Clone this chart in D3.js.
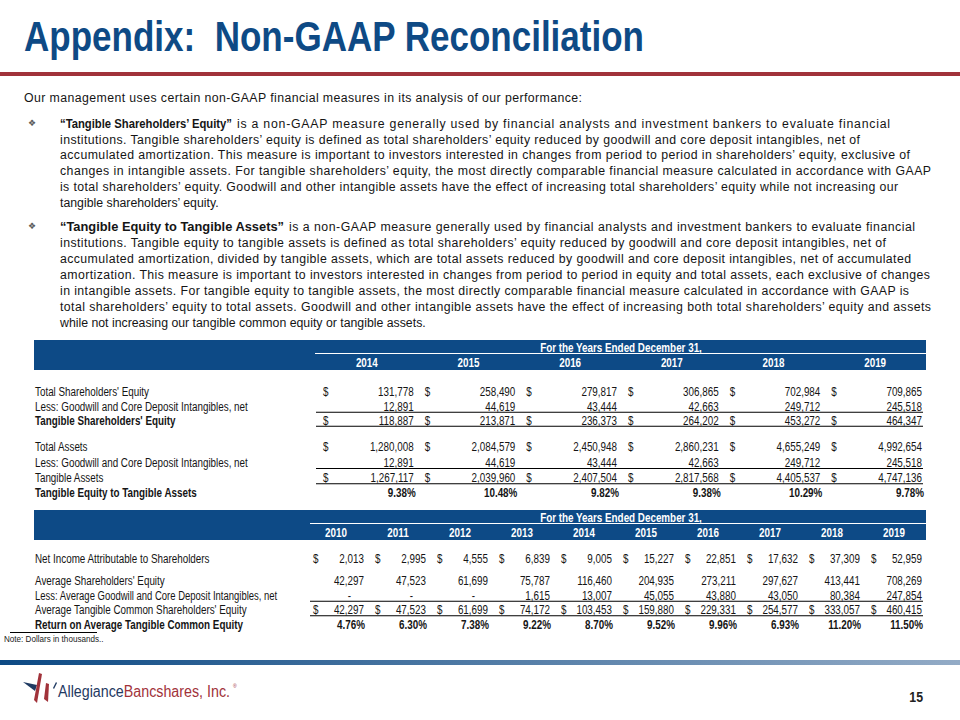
<!DOCTYPE html>
<html><head><meta charset="utf-8">
<script src="https://cdn.jsdelivr.net/npm/d3@7"></script>
<style>html,body{margin:0;padding:0;background:#fff;} svg{display:block;}</style>
</head><body>
<svg id="c" width="960" height="720"></svg>
<script>
// ---------------- DATA ----------------
const titleText = "Appendix:  Non-GAAP Reconciliation";
const introText = "Our management uses certain non-GAAP financial measures in its analysis of our performance:";
const bullet1Lead = "“Tangible Shareholders’ Equity”";
const bullet1Lines = [
  "is a non-GAAP measure generally used by financial analysts and investment bankers to evaluate financial",
  "institutions. Tangible shareholders’ equity is defined as total shareholders’ equity reduced by goodwill and core deposit intangibles, net of",
  "accumulated amortization. This measure is important to investors interested in changes from period to period in shareholders’ equity, exclusive of",
  "changes in intangible assets. For tangible shareholders’ equity, the most directly comparable financial measure calculated in accordance with GAAP",
  "is total shareholders’ equity. Goodwill and other intangible assets have the effect of increasing total shareholders’ equity while not increasing our",
  "tangible shareholders’ equity."
];
const bullet2Lead = "“Tangible Equity to Tangible Assets”";
const bullet2Lines = [
  "is a non-GAAP measure generally used by financial analysts and investment bankers to evaluate financial",
  "institutions. Tangible equity to tangible assets is defined as total shareholders’ equity reduced by goodwill and core deposit intangibles, net of",
  "accumulated amortization, divided by tangible assets, which are total assets reduced by goodwill and core deposit intangibles, net of accumulated",
  "amortization. This measure is important to investors interested in changes from period to period in equity and total assets, each exclusive of changes",
  "in intangible assets. For tangible equity to tangible assets, the most directly comparable financial measure calculated in accordance with GAAP is",
  "total shareholders’ equity to total assets. Goodwill and other intangible assets have the effect of increasing both total shareholders’ equity and assets",
  "while not increasing our tangible common equity or tangible assets."
];
const headerText = "For the Years Ended December 31,";

const years1 = ["2014", "2015", "2016", "2017", "2018", "2019"];
const totalEquity = [131778, 258490, 279817, 306865, 702984, 709865];
const goodwill1 = [12891, 44619, 43444, 42663, 249712, 245518];
const tangibleEquity = [118887, 213871, 236373, 264202, 453272, 464347];
const totalAssets = [1280008, 2084579, 2450948, 2860231, 4655249, 4992654];
const goodwill1b = [12891, 44619, 43444, 42663, 249712, 245518];
const tangibleAssets = [1267117, 2039960, 2407504, 2817568, 4405537, 4747136];
const tceRatio = [9.38, 10.48, 9.82, 9.38, 10.29, 9.78];

const years2 = ["2010", "2011", "2012", "2013", "2014", "2015", "2016", "2017", "2018", "2019"];
const netIncome = [2013, 2995, 4555, 6839, 9005, 15227, 22851, 17632, 37309, 52959];
const avgEquity = [42297, 47523, 61699, 75787, 116460, 204935, 273211, 297627, 413441, 708269];
const avgGoodwill = [0, 0, 0, 1615, 13007, 45055, 43880, 43050, 80384, 247854];
const avgTangible = [42297, 47523, 61699, 74172, 103453, 159880, 229331, 254577, 333057, 460415];
const rotce = [4.76, 6.30, 7.38, 9.22, 8.70, 9.52, 9.96, 6.93, 11.20, 11.50];

const noteText = "Note: Dollars in thousands..";
const pageNumber = "15";

// ---------------- LAYOUT / STYLE ----------------
const BLUE = "#0d4a86", RED = "#a1323a", INK = "#151515";
const SANS = "'Liberation Sans', Arial, sans-serif";
const NARROW = "'Liberation Sans Narrow', 'Arial Narrow', 'Liberation Sans', Arial, sans-serif";
const svg = d3.select("#c");
const fmt = d3.format(",");
const pct = v => d3.format(".2f")(v) + "%";

function addText(g, str, x, y, o) {
  return g.append("text").attr("x", x).attr("y", y).text(str)
    .style("font-family", SANS).style("font-size", o.size + "px")
    .style("font-weight", o.bold ? "bold" : "normal")
    .style("white-space", "pre")
    .attr("fill", o.fill || INK);
}
function narrow(g, str, x, y, o) {
  const t = addText(g, str, 0, y, o);
  const w = t.node().getComputedTextLength() * (o.factor || 0.82);
  const a = o.anchor || "start";
  const x0 = a === "end" ? x - w : a === "middle" ? x - w / 2 : x;
  t.attr("x", x0).attr("textLength", w).attr("lengthAdjust", "spacingAndGlyphs")
   .style("font-family", NARROW);
  return t;
}
function fit(g, str, x0, x1, y, o) {
  const t = addText(g, str, x0, y, o);
  if (x1) t.attr("textLength", x1 - x0).attr("lengthAdjust", "spacing");
  return t;
}

// ---------------- TITLE ----------------
addText(svg, titleText, 24, 51, {size: 42, bold: true, fill: "#0e4a85"})
  .attr("textLength", 620).attr("lengthAdjust", "spacingAndGlyphs").style("font-family", NARROW);
svg.append("rect").attr("x", 0).attr("y", 72).attr("width", 960).attr("height", 4).attr("fill", RED);

// ---------------- PARAGRAPHS ----------------
const P = {size: 12.3};
fit(svg, introText, 24, 582, 102, P);

function bullet(lead, leadEnd, lines, y0, step, ends) {
  svg.append("text").attr("x", 32).attr("y", y0 + 2).attr("text-anchor", "middle")
    .style("font-family", "'DejaVu Sans', sans-serif").style("font-size", "9px")
    .attr("fill", "#5a5a5a").text("❖");
  addText(svg, lead, 60, y0 + 4, {size: 12.3, bold: true})
    .attr("textLength", leadEnd - 60).attr("lengthAdjust", "spacingAndGlyphs");
  lines.forEach((ln, i) => {
    const x0 = i === 0 ? leadEnd + 5 : 60;
    fit(svg, ln, x0, ends[i], y0 + 4 + i * step, P);
  });
}
bullet(bullet1Lead, 232, bullet1Lines, 124, 15.7, [890, 860, 910, 931, 898, null]);
bullet(bullet2Lead, 284, bullet2Lines, 227, 16.0, [915, 886, 911, 930, 909, 931, null]);

// ---------------- TABLE HELPERS ----------------
function header(years, colScale, top, lineX) {
  svg.append("rect").attr("x", 34).attr("y", top).attr("width", 892).attr("height", 30).attr("fill", BLUE);
  narrow(svg, headerText, 621, top + 12, {size: 12, bold: true, fill: "#fff", anchor: "middle"});
  svg.append("line").attr("x1", lineX).attr("x2", 926).attr("y1", top + 13.5).attr("y2", top + 13.5)
    .attr("stroke", "#fff").attr("stroke-width", 1.2);
  years.forEach(y => narrow(svg, y, colScale(y) + colScale.bandwidth() / 2, top + 27,
    {size: 12, bold: true, fill: "#fff", anchor: "middle"}));
}
function row(label, values, years, colScale, cy, o) {
  const base = cy + 4.3;
  narrow(svg, label, 35, base, {size: 12, bold: o.boldLabel, factor: o.labelFactor});
  values.forEach((v, i) => {
    const x = colScale(years[i]);
    const right = x + colScale.bandwidth() - o.inset;
    if (o.dollar) narrow(svg, "$", x + o.dollarOff, base, {size: 12});
    let str;
    if (o.pct) str = pct(v);
    else if (v === 0) str = "-";
    else str = fmt(v);
    const xr = o.pct ? right + o.pctShift : (v === 0 ? right - 13 : right);
    narrow(svg, str, xr, base, {size: 12, bold: o.pct, anchor: "end"});
  });
  if (o.underline) {
    const last = colScale(years[years.length - 1]) + colScale.bandwidth() - o.inset + 1;
    svg.append("line").attr("x1", o.lineX).attr("x2", last).attr("y1", cy + 5.8).attr("y2", cy + 5.8)
      .attr("stroke", "#000").attr("stroke-width", 1.1);
  }
}

// ---------------- TABLE 1 ----------------
const x1 = d3.scaleBand().domain(years1).range([316, 926]);
header(years1, x1, 340, 315);
const o1 = {inset: 4, dollarOff: 7, pctShift: 2, lineX: 316};
row("Total Shareholders' Equity", totalEquity, years1, x1, 392, {...o1, dollar: true});
row("Less: Goodwill and Core Deposit Intangibles, net", goodwill1, years1, x1, 406.5, {...o1, underline: true});
row("Tangible Shareholders' Equity", tangibleEquity, years1, x1, 420.5, {...o1, dollar: true, boldLabel: true, underline: true});
row("Total Assets", totalAssets, years1, x1, 447, {...o1, dollar: true});
row("Less: Goodwill and Core Deposit Intangibles, net", goodwill1b, years1, x1, 462.7, {...o1, underline: true});
row("Tangible Assets", tangibleAssets, years1, x1, 478, {...o1, dollar: true, underline: true});
row("Tangible Equity to Tangible Assets", tceRatio, years1, x1, 493, {...o1, pct: true, boldLabel: true});

// ---------------- TABLE 2 ----------------
const x2 = d3.scaleBand().domain(years2).range([305, 925]);
header(years2, x2, 510, 310);
const o2 = {inset: 3, dollarOff: 8, pctShift: 1, lineX: 310};
row("Net Income Attributable to Shareholders", netIncome, years2, x2, 558.5, {...o2, dollar: true});
row("Average Shareholders' Equity", avgEquity, years2, x2, 581, o2);
row("Less: Average Goodwill and Core Deposit Intangibles, net", avgGoodwill, years2, x2, 595.5, {...o2, underline: true, labelFactor: 0.79});
row("Average Tangible Common Shareholders' Equity", avgTangible, years2, x2, 610, {...o2, dollar: true, underline: true});
row("Return on Average Tangible Common Equity", rotce, years2, x2, 624.5, {...o2, pct: true, boldLabel: true});

// ---------------- FOOTNOTE ----------------
svg.append("line").attr("x1", 10).attr("x2", 97).attr("y1", 632.5).attr("y2", 632.5).attr("stroke", "#000").attr("stroke-width", 1);
narrow(svg, noteText, 4, 642, {size: 9, fill: "#222", factor: 0.9});

// ---------------- FOOTER ----------------
const grad = svg.append("defs").append("linearGradient").attr("id", "fg").attr("x1", "0").attr("x2", "1");
grad.append("stop").attr("offset", "0").attr("stop-color", "#0d4a84");
grad.append("stop").attr("offset", "1").attr("stop-color", "#93abc6");
svg.append("rect").attr("x", 0).attr("y", 660).attr("width", 960).attr("height", 5).attr("fill", "url(#fg)");

const logo = svg.append("g");
logo.append("path").attr("d", "M23,682 L37,685 L35,691 Z").attr("fill", "#1f3a62");
logo.append("path").attr("d", "M39,673 L42,674 L37,703 L34,700 Z").attr("fill", RED);
logo.append("path").attr("d", "M46,683 L49,684 L48,702 L44,699 Z").attr("fill", RED);
logo.append("path").attr("d", "M53,688 L56,682 L57,683 L54,689 Z").attr("fill", "#1f3a62");
const lt = logo.append("text").attr("x", 58).attr("y", 697)
  .style("font-family", SANS).style("font-size", "16px")
  .attr("textLength", 172).attr("lengthAdjust", "spacingAndGlyphs");
lt.append("tspan").attr("fill", "#1f3a62").text("Allegiance");
lt.append("tspan").attr("fill", RED).text("Bancshares, Inc.");
addText(logo, "®", 233, 688, {size: 5, fill: RED});

narrow(svg, pageNumber, 923, 702, {size: 15, bold: true, anchor: "end", fill: "#222"});
</script>
</body></html>
